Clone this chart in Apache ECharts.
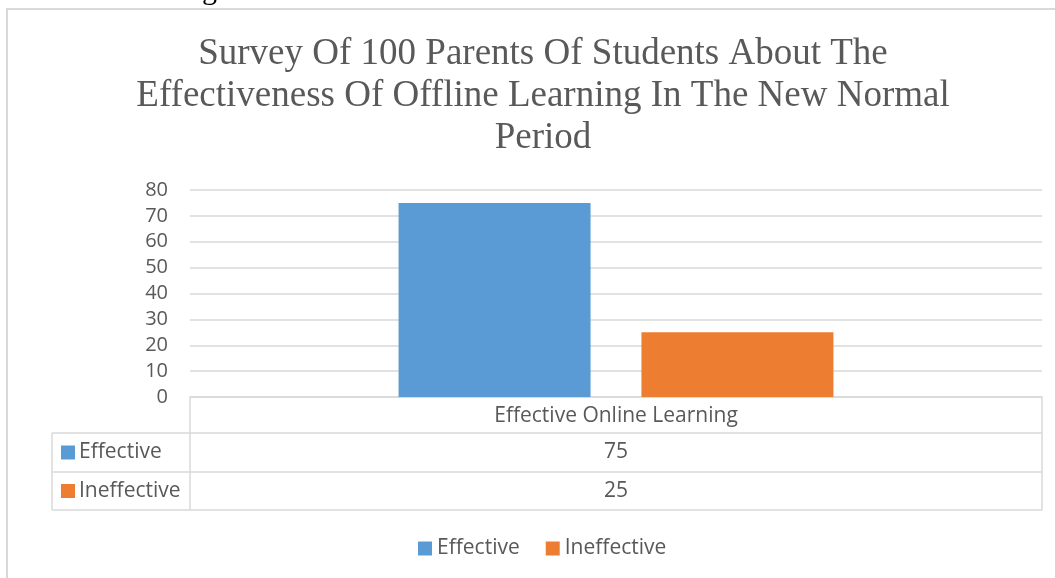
<!DOCTYPE html>
<html>
<head>
<meta charset="utf-8">
<script src="https://cdn.jsdelivr.net/npm/echarts@6/dist/echarts.min.js"></script>
<style>
html,body{margin:0;padding:0;background:#fff;}
#main{width:1055px;height:578px;}
</style>
</head>
<body>
<div id="main"></div>
<script>
const titleText = 'Survey Of 100 Parents Of Students About The\nEffectiveness Of Offline Learning In The New Normal\nPeriod';
const categories = ['Effective Online Learning'];
const seriesNames = ['Effective', 'Ineffective'];
const effectiveValues = [75];
const ineffectiveValues = [25];
const seriesColors = ['#5b9bd5', '#ed7d31'];

const W = 1055, H = 578;
const gridLeft = 190, gridRight = 13, gridTop = 190, gridBottom = 181;
const plotL = gridLeft, plotR = W - gridRight, plotB = H - gridBottom;
const rowH = [36, 39, 38];
const tableLeft = 52;
const lineCol = '#d9d9d9';
const textCol = '#595959';
const sansFont = '"Open Sans"';
const textSize = 21;

const chart = echarts.init(document.getElementById('main'));

const seriesData = [effectiveValues, ineffectiveValues];
const graphics = [];
// outer chart frame
graphics.push({type:'rect', shape:{x:7, y:9, width:1100, height:700}, style:{fill:'none', stroke:lineCol, lineWidth:2}, silent:true});
// stray text from page above
graphics.push({type:'text', left:202, top:-24, style:{text:'g', font:'30px "Liberation Serif"', fill:'#000'}});

// table lines
const y1 = plotB + rowH[0], y2 = y1 + rowH[1], y3 = y2 + rowH[2];
const lines = [
  [plotL, plotB, plotL, y3],
  [plotR, plotB, plotR, y3],
  [tableLeft, y1, tableLeft, y3],
  [tableLeft, y1, plotR, y1],
  [tableLeft, y2, plotR, y2],
  [tableLeft, y3, plotR, y3]
];
lines.forEach(l => graphics.push({type:'line', shape:{x1:l[0], y1:l[1], x2:l[2], y2:l[3]}, style:{stroke:lineCol, lineWidth:1.5}, silent:true}));
const rowCenters = [(y1 + y2) / 2, (y2 + y3) / 2];
seriesNames.forEach((name, i) => {
  graphics.push({type:'rect', shape:{x:61, y:rowCenters[i] - 7, width:14, height:14}, style:{fill:seriesColors[i]}});
  graphics.push({type:'text', x:79, y:rowCenters[i], style:{text:name, font:textSize + 'px ' + sansFont, fill:textCol, textVerticalAlign:'middle', verticalAlign:'middle'}});
  graphics.push({type:'text', x:(plotL + plotR) / 2, y:rowCenters[i], style:{text:String(seriesData[i][0]), font:textSize + 'px ' + sansFont, fill:textCol, align:'center', textAlign:'center', verticalAlign:'middle', textVerticalAlign:'middle'}});
});

chart.setOption({
  animation: false,
  backgroundColor: '#fff',
  title: {
    text: titleText,
    left: 538,
    top: 28,
    textAlign: 'center',
    textStyle: {fontFamily: 'Liberation Serif', fontSize: 37, fontWeight: 'normal', color: textCol, lineHeight: 42}
  },
  legend: {
    data: seriesNames,
    left: 418,
    top: 538,
    padding: 0,
    icon: 'rect',
    itemWidth: 14,
    itemHeight: 14,
    itemGap: 26,
    textStyle: {fontFamily: 'Open Sans', fontSize: textSize, color: textCol}
  },
  grid: {left: gridLeft, right: gridRight, top: gridTop, bottom: gridBottom, containLabel: false},
  xAxis: {
    type: 'category',
    data: categories,
    axisLine: {show: true, lineStyle: {color: lineCol, width: 1.5}},
    axisTick: {show: false},
    axisLabel: {fontFamily: 'Open Sans', fontSize: textSize, color: textCol, margin: 9}
  },
  yAxis: {
    type: 'value',
    min: 0,
    max: 80,
    interval: 10,
    axisLine: {show: false},
    axisTick: {show: false},
    axisLabel: {fontFamily: 'Open Sans', fontSize: 20, color: textCol, margin: 22},
    splitLine: {lineStyle: {color: lineCol, width: 1.5}}
  },
  series: seriesNames.map((name, i) => ({
    name: name,
    type: 'bar',
    data: seriesData[i],
    barWidth: 192,
    barGap: '26.5%',
    itemStyle: {color: seriesColors[i]}
  })),
  graphic: graphics
});
</script>
</body>
</html>
